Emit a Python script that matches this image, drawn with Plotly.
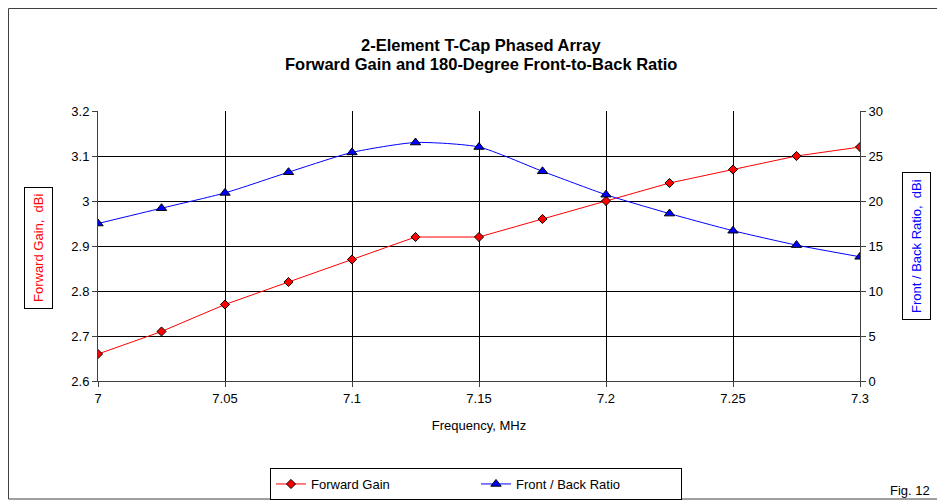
import plotly.graph_objects as go

freq = [7.0, 7.025, 7.05, 7.075, 7.1, 7.125, 7.15, 7.175, 7.2, 7.225, 7.25, 7.275, 7.3]
forward_gain = [2.66, 2.71, 2.77, 2.82, 2.87, 2.92, 2.92, 2.96, 3.00, 3.04, 3.07, 3.10, 3.12]
front_back = [17.5, 19.2, 20.9, 23.2, 25.4, 26.5, 26.0, 23.3, 20.7, 18.6, 16.7, 15.1, 13.8]
x_ticks = [7.0, 7.05, 7.1, 7.15, 7.2, 7.25, 7.3]
x_tick_labels = ["7", "7.05", "7.1", "7.15", "7.2", "7.25", "7.3"]

# page has an 8px body margin; work in page coordinates and convert
OFF = 8
W, H = 945 - OFF, 504 - OFF
L, R, T, B = 98, 860, 111, 381  # plot area in page pixels
pw, ph = R - L, B - T

def px(x):
    return (x - L) / pw

def py(y):
    return (B - y) / ph

def cx(x):
    return (x - OFF) / W

def cy(y):
    return 1 - (y - OFF) / H

fig = go.Figure()
fig.add_trace(go.Scatter(
    x=freq, y=forward_gain, name="Forward Gain", mode="lines+markers",
    line=dict(color="#ff0000", width=1),
    marker=dict(symbol="diamond", size=7, color="#ff0000", line=dict(color="#000000", width=1)),
    yaxis="y"))
fig.add_trace(go.Scatter(
    x=freq, y=front_back, name="Front / Back Ratio", mode="lines+markers",
    line=dict(color="#0000ff", width=1, shape="spline", smoothing=0.6),
    marker=dict(symbol="triangle-up", size=9, color="#0000ff", line=dict(color="#000000", width=1)),
    yaxis="y2"))

font = "Liberation Sans, Arial, sans-serif"

fig.update_layout(
    width=W, height=H,
    margin=dict(l=L - OFF, r=(W + OFF) - R, t=T - OFF, b=(H + OFF) - B, pad=0, autoexpand=False),
    paper_bgcolor="white", plot_bgcolor="white",
    font=dict(family=font, size=13, color="#000000"),
    showlegend=True,
    legend=dict(orientation="h", xref="container", yref="container",
                x=cx(270), y=cy(468), xanchor="left", yanchor="top",
                bordercolor="#000000", borderwidth=1, bgcolor="white",
                entrywidth=160, entrywidthmode="pixels", tracegroupgap=0,
                font=dict(family=font, size=13), itemwidth=30),
    xaxis=dict(range=[7.0, 7.3], tickvals=x_ticks, ticktext=x_tick_labels,
               showgrid=True, gridcolor="#000000", gridwidth=1, automargin=False,
               showline=True, linecolor="#404040", linewidth=1, mirror=False,
               ticks="outside", ticklen=5, tickcolor="#404040",
               zeroline=False, tickfont=dict(size=13),
               title=dict(text="Frequency, MHz", font=dict(size=13), standoff=16)),
    yaxis=dict(range=[2.6, 3.2], dtick=0.1, tickformat="~g", automargin=False,
               showgrid=True, gridcolor="#000000", gridwidth=1,
               showline=True, linecolor="#404040", linewidth=1, tickfont=dict(size=13),
               ticks="outside", ticklen=5, tickcolor="#404040", zeroline=False),
    yaxis2=dict(range=[0, 30], dtick=5, overlaying="y", side="right", automargin=False,
                showgrid=False, showline=True, linecolor="#404040", linewidth=1,
                tickfont=dict(size=13),
                ticks="outside", ticklen=5, tickcolor="#404040", zeroline=False),
    shapes=[
        dict(type="rect", xref="paper", yref="paper",
             x0=px(8.5), x1=px(943), y0=py(8.5), y1=py(499),
             line=dict(color="#404040", width=1), layer="below"),
    ],
    annotations=[
        dict(text="<b>2-Element T-Cap Phased Array</b>",
             xref="paper", yref="paper", x=px(481), y=py(45), xanchor="center", yanchor="middle",
             showarrow=False, font=dict(family=font, size=16.5, color="#000000")),
        dict(text="<b>Forward Gain and 180-Degree Front-to-Back Ratio</b>",
             xref="paper", yref="paper", x=px(481), y=py(64), xanchor="center", yanchor="middle",
             showarrow=False, font=dict(family=font, size=16.5, color="#000000")),
        dict(text="Forward Gain,  dBi", textangle=-90,
             xref="paper", yref="paper", x=px(38), y=py(248), xanchor="center", yanchor="middle",
             showarrow=False, font=dict(family=font, size=13, color="#ff0000"),
             bordercolor="#000000", borderwidth=1, borderpad=6, bgcolor="white"),
        dict(text="Front / Back Ratio,  dBi", textangle=-90,
             xref="paper", yref="paper", x=px(916), y=py(246), xanchor="center", yanchor="middle",
             showarrow=False, font=dict(family=font, size=13, color="#0000ff"),
             bordercolor="#000000", borderwidth=1, borderpad=6, bgcolor="white"),
        dict(text="Fig. 12", xref="paper", yref="paper", x=px(910), y=py(490),
             xanchor="center", yanchor="middle", showarrow=False,
             font=dict(family=font, size=13, color="#000000")),
    ],
)

fig.write_html("out.html")
